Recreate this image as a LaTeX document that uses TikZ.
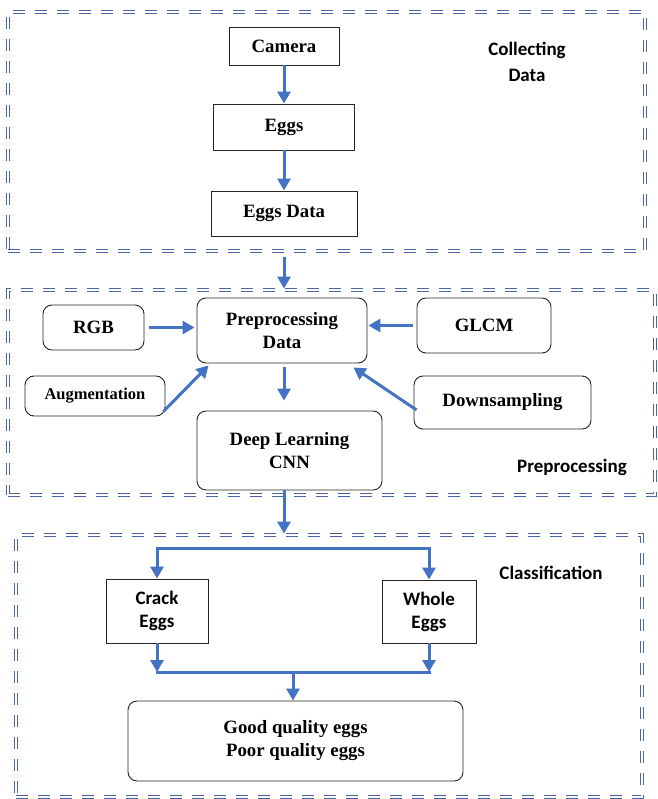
\documentclass[tikz,border=0pt]{standalone}
\usepackage{fontspec}
\setmainfont{Liberation Serif}
\newfontfamily\labelfont{Carlito}
\usepackage{xcolor}
\usetikzlibrary{arrows, arrows.meta}
\definecolor{arrowblue}{RGB}{68,114,196}
\definecolor{frameblue}{RGB}{74,102,162}
\tikzset{
  box/.style={draw=black!85, line width=0.9pt, inner sep=0pt, align=center,
    font=\bfseries\fontsize{18.8}{23}\selectfont},
  roundbox/.style={box, rounded corners=9pt},
  sansbox/.style={box, font=\labelfont\bfseries\fontsize{19}{23}\selectfont},
  frame/.style={draw=frameblue, line width=0.9pt, double=white, double distance=1.4pt,
    dash pattern=on 12pt off 10pt, inner sep=0pt},
  steplabel/.style={align=center, font=\labelfont\bfseries\fontsize{19}{26}\selectfont},
  arr/.style={draw=arrowblue, line width=3pt, -{Triangle[width=13pt,length=12pt]}},
  link/.style={draw=arrowblue, line width=3pt}
}
\begin{document}
\begin{tikzpicture}[x=1pt, y=-1pt]
\useasboundingbox (0,0) rectangle (657,799);
% frames
\node[frame, minimum width=637, minimum height=239] (collect) at (326.5,131.5) {};
\node[frame, minimum width=647, minimum height=205] (prepframe) at (331.5,392.5) {};
\node[frame, minimum width=626, minimum height=262] (classframe) at (329,666) {};
\node[steplabel] (collectlbl) at (527,62) {Collecting\\Data};
\node[steplabel] (preplbl) at (572,467) {Preprocessing};
\node[steplabel] (classlbl) at (551,573) {Classification};
% collecting data
\node[box, minimum width=110, minimum height=38] (camera) at (284,46) {Camera};
\node[box, minimum width=141, minimum height=46] (eggs) at (284,127) {Eggs};
\node[box, minimum width=146, minimum height=45] (eggsdata) at (284,213.5) {Eggs Data};
\draw[arr] (camera) -- (eggs);
\draw[arr] (eggs) -- (eggsdata);
\draw[arr, shorten <=6pt, shorten >=1pt] (collect.south -| eggsdata) -- (eggsdata |- prepframe.north);
% preprocessing
\node[roundbox, minimum width=101, minimum height=45] (rgb) at (93.5,327.5) {RGB};
\node[roundbox, minimum width=170, minimum height=65] (prep) at (282,330.5) {Preprocessing\\Data};
\node[roundbox, minimum width=140, minimum height=40, font=\bfseries\fontsize{16.5}{20}\selectfont] (aug) at (95,396) {Augmentation};
\node[roundbox, minimum width=134, minimum height=55] (glcm) at (484,325.5) {GLCM};
\node[roundbox, minimum width=177, minimum height=53] (down) at (502.5,402.5) {Downsampling};
\node[roundbox, minimum width=185, minimum height=79] (dl) at (289.5,450.5) {Deep Learning\\CNN};
\draw[arr, shorten <=5pt, shorten >=2pt] (rgb) -- (rgb -| prep.west);
\draw[arr, shorten <=4pt, shorten >=1pt] (glcm) -- (glcm -| prep.east);
\draw[arr] ([shift={(-2,-5)}]aug.south east) -- ([shift={(12,2)}]prep.south west);
\draw[arr] ([shift={(3,7.5)}]down.west) -- ([shift={(-14,4)}]prep.south east);
\draw[arr, shorten <=4pt, shorten >=10pt] (eggsdata |- prep.south) -- (eggsdata |- dl.north);
\draw[arr, shorten >=1pt] (eggsdata |- dl.south) -- (eggsdata |- classframe.north);
% classification
\node[sansbox, minimum width=102, minimum height=64] (crack) at (157,611) {Crack\\Eggs};
\node[sansbox, minimum width=94, minimum height=63] (whole) at (429,611.5) {Whole\\Eggs};
\node[roundbox, minimum width=335, minimum height=80] (quality) at (295.5,741) {Good quality eggs\\Poor quality eggs};
\coordinate (fork) at (283,548);
\coordinate (join) at (293,672);
\draw[link] ([xshift=-1.5pt]crack.north |- fork) -- ([xshift=1.5pt]whole.north |- fork);
\draw[arr] (crack.north |- fork) -- (crack.north);
\draw[arr] (whole.north |- fork) -- (whole.north);
\draw[arr] (crack.south) -- (crack.south |- join);
\draw[arr] (whole.south) -- (whole.south |- join);
\draw[link] ([xshift=-1.5pt]crack.south |- join) -- ([xshift=1.5pt]whole.south |- join);
\draw[arr] (join) -- (join |- quality.north);
\end{tikzpicture}
\end{document}
